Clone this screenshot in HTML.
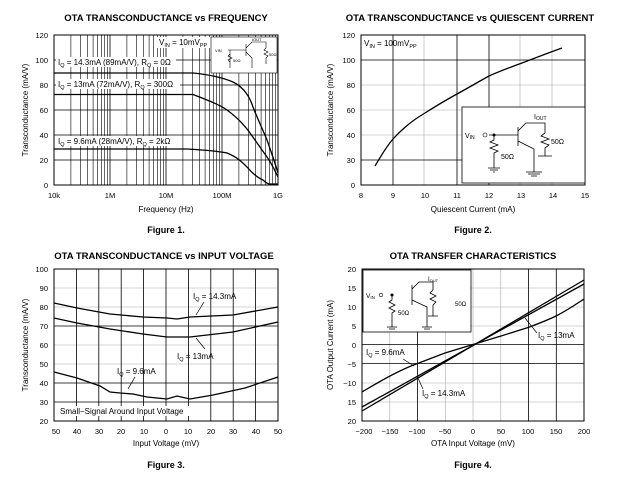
<!DOCTYPE html>
<html><head><meta charset="utf-8"><style>
body{margin:0;background:#fff;width:620px;height:478px;overflow:hidden}
svg{display:block}
text{font-family:"Liberation Sans",sans-serif;fill:#000}
.t{font-size:9.5px;font-weight:bold}
.k{font-size:7.5px}
.a{font-size:8px}
.f{font-size:9px;font-weight:bold}
.g{stroke:#000;stroke-width:.8}
.l{stroke:#aaa;stroke-width:.6}
.c{fill:none;stroke:#000;stroke-width:1.3}
</style></head><body>
<svg width="620" height="478" viewBox="0 0 620 478">
<!-- FIG 1 -->
<text class="t" x="166" y="21" text-anchor="middle">OTA TRANSCONDUCTANCE vs FREQUENCY</text>
<g class="g">
<path d="M54 60H278M54 85H278M54 110H278M54 135H278M54 160H278"/>
<path d="M110 35V185M166 35V185M222 35V185"/>
</g>
<g stroke="#000" stroke-width=".6">
<path d="M70.9 35V185M80.7 35V185M87.7 35V185M93.1 35V185M97.6 35V185M101.3 35V185M104.6 35V185M107.4 35V185"/>
<path d="M126.9 35V185M136.7 35V185M143.7 35V185M149.1 35V185M153.6 35V185M157.3 35V185M160.6 35V185M163.4 35V185"/>
<path d="M182.9 35V185M192.7 35V185M199.7 35V185M205.1 35V185M209.6 35V185M213.3 35V185M216.6 35V185M219.4 35V185"/>
<path d="M238.9 35V185M248.7 35V185M255.7 35V185M261.1 35V185M265.6 35V185M269.3 35V185M272.6 35V185M275.4 35V185"/>
</g>
<rect x="54" y="35" width="224" height="150" fill="none" stroke="#000" stroke-width="1"/>
<path class="c" d="M54 73H193C213 75 226 79 233 82C245 88 250 98 253 107C258 120 263 130 267 140C272 154 275 163 278 173"/>
<path class="c" d="M54 94.5H193C210 101 220 105 227 110C238 118 245 126 250 133C257 143 262 150 267 157C272 164 275 171 278 177"/>
<path class="c" d="M54 149H187C205 150 217 151 227 153C237 157 242 162 247 167C253 174 258 178 263 180C266 183 268 184 270 184H278"/>
<rect x="56" y="57" width="120" height="10" fill="#fff"/>
<text class="a" x="58" y="65">I<tspan font-size="5.5" dy="2">Q</tspan><tspan dy="-2"> = 14.3mA (89mA/V), R</tspan><tspan font-size="5.5" dy="2">Q</tspan><tspan dy="-2"> = 0Ω</tspan></text>
<rect x="56" y="79" width="124" height="10" fill="#fff"/>
<text class="a" x="58" y="87">I<tspan font-size="5.5" dy="2">Q</tspan><tspan dy="-2"> = 13mA (72mA/V), R</tspan><tspan font-size="5.5" dy="2">Q</tspan><tspan dy="-2"> = 300Ω</tspan></text>
<rect x="56" y="136" width="118" height="10" fill="#fff"/>
<text class="a" x="58" y="144">I<tspan font-size="5.5" dy="2">Q</tspan><tspan dy="-2"> = 9.6mA (28mA/V), R</tspan><tspan font-size="5.5" dy="2">Q</tspan><tspan dy="-2"> = 2kΩ</tspan></text>
<rect x="157" y="37" width="53" height="11" fill="#fff"/>
<text class="a" x="159" y="45">V<tspan font-size="5.5" dy="2">IN</tspan><tspan dy="-2"> = 10mV</tspan><tspan font-size="5.5" dy="2">PP</tspan></text>
<rect x="211" y="37" width="66" height="36" fill="#fff" stroke="#000" stroke-width=".6"/>
<g stroke="#000" stroke-width=".6" fill="none"><path d="M228 50H246M246 44V56M246 48L252 42H266V48M246 52L252 58V68M230 50V68M266 48L264 50L268 52L264 54L268 56L266 58V64M230 54L228 56L232 58L228 60L230 62V66"/></g>
<text x="215" y="52" font-size="4">V<tspan>IN</tspan></text><text x="233" y="62" font-size="4">50Ω</text><text x="269" y="56" font-size="4">50Ω</text><text x="252" y="41" font-size="4">IOUT</text>
<g class="k" text-anchor="end"><text x="48" y="38">120</text><text x="48" y="63">100</text><text x="48" y="88">80</text><text x="48" y="113">60</text><text x="48" y="138">40</text><text x="48" y="163">20</text><text x="48" y="188">0</text></g>
<g class="k" text-anchor="middle"><text x="54" y="198">10k</text><text x="110" y="198">1M</text><text x="166" y="198">10M</text><text x="222" y="198">100M</text><text x="278" y="198">1G</text></g>
<text class="a" x="166" y="212" text-anchor="middle">Frequency (Hz)</text>
<text class="a" transform="translate(28 110) rotate(-90)" text-anchor="middle">Transconductance (mA/V)</text>
<text class="f" x="166" y="233" text-anchor="middle">Figure 1.</text>

<!-- FIG 2 -->
<text class="t" x="470" y="21" text-anchor="middle">OTA TRANSCONDUCTANCE vs QUIESCENT CURRENT</text>
<g class="l"><path d="M361 85H585M361 110H585M361 135H585M424 35V185M520 35V185M552 35V185"/></g>
<g class="g"><path d="M361 60H585M361 160H585M393 35V185M457 35V185M489 35V185"/></g>
<rect x="361" y="35" width="224" height="150" fill="none" stroke="#000" stroke-width="1"/>
<path class="c" d="M375 166C381 156 386 147 393 139C403 128 413 120 425 113C436 106 446 100 457 94C468 88 478 82 489 76C500 71 511 67 522 63C535 58 548 53 562 48"/>
<text class="a" x="364" y="46">V<tspan font-size="5.5" dy="2">IN</tspan><tspan dy="-2"> = 100mV</tspan><tspan font-size="5.5" dy="2">PP</tspan></text>
<rect x="462" y="107" width="123" height="76" fill="#fff" stroke="#000" stroke-width=".8"/>
<g stroke="#000" stroke-width=".8" fill="none">
<path d="M489 135H518M518 127V146M518 131L526 123H545V133M518 141L534 149V172M494 135V140L490 142L498 145L490 148L498 151L494 153V168M545 133L541 136L549 139L541 142L549 145L545 148V156M488 168H500M490 170H498M493 172H495M526 172H542M528 174H540M531 176H537M538 156H552"/></g>
<circle cx="494" cy="135" r="1.5"/><circle cx="485" cy="135" r="2" fill="none" stroke="#000" stroke-width=".6"/>
<text x="465" y="138" font-size="7">V<tspan font-size="5" dy="1">IN</tspan></text>
<text x="501" y="159" font-size="7">50Ω</text><text x="551" y="144" font-size="7">50Ω</text>
<text x="534" y="119" font-size="7">I<tspan font-size="5" dy="1">OUT</tspan></text>
<g class="k" text-anchor="end"><text x="355" y="38">120</text><text x="355" y="63">100</text><text x="355" y="88">80</text><text x="355" y="113">60</text><text x="355" y="138">40</text><text x="355" y="163">30</text><text x="355" y="188">0</text></g>
<g class="k" text-anchor="middle"><text x="361" y="198">8</text><text x="393" y="198">9</text><text x="425" y="198">10</text><text x="457" y="198">11</text><text x="489" y="198">12</text><text x="521" y="198">13</text><text x="553" y="198">14</text><text x="585" y="198">15</text></g>
<text class="a" x="473" y="212" text-anchor="middle">Quiescent Current (mA)</text>
<text class="a" transform="translate(333 110) rotate(-90)" text-anchor="middle">Transconductance (mA/V)</text>
<text class="f" x="473" y="233" text-anchor="middle">Figure 2.</text>

<!-- FIG 3 -->
<text class="t" x="164" y="259" text-anchor="middle">OTA TRANSCONDUCTANCE vs INPUT VOLTAGE</text>
<g class="l"><path d="M54 288H278M54 307H278M54 345H278M54 364H278"/></g>
<g class="g"><path d="M54 326H278M54 383H278M54 402H278M76.4 269V421M98.8 269V421M121.2 269V421M143.6 269V421M166 269V421M188.4 269V421M210.8 269V421M233.2 269V421M255.6 269V421"/></g>
<rect x="54" y="269" width="224" height="152" fill="none" stroke="#000" stroke-width="1"/>
<path class="c" d="M54 303L77 308L110 314L143 317L167 318L177 319L190 317L233 315L278 307"/>
<path class="c" d="M54 318L77 323L110 329L143 334L167 337L190 337L233 332L278 322"/>
<path class="c" d="M54 372L77 378L100 386L110 392L120 393L133 394L147 397L167 399L177 396L190 399L213 395L245 388L278 377"/>
<rect x="58" y="406" width="138" height="10" fill="#fff"/>
<text class="a" x="60" y="414">Small−Signal Around Input Voltage</text>
<text class="a" x="193" y="299">I<tspan font-size="5.5" dy="2">Q</tspan><tspan dy="-2"> = 14.3mA</tspan></text>
<text class="a" x="177" y="359">I<tspan font-size="5.5" dy="2">Q</tspan><tspan dy="-2"> = 13mA</tspan></text>
<text class="a" x="117" y="374">I<tspan font-size="5.5" dy="2">Q</tspan><tspan dy="-2"> = 9.6mA</tspan></text>
<g stroke="#000" stroke-width=".7"><path d="M204 302L196 315M196 338L205 349M135 377L128 389"/></g>
<g class="k" text-anchor="end"><text x="48" y="272">100</text><text x="48" y="291">90</text><text x="48" y="310">80</text><text x="48" y="329">70</text><text x="48" y="348">60</text><text x="48" y="367">50</text><text x="48" y="386">40</text><text x="48" y="405">30</text><text x="48" y="424">20</text></g>
<g class="k" text-anchor="middle"><text x="56" y="434">50</text><text x="77" y="434">40</text><text x="99" y="434">30</text><text x="121" y="434">20</text><text x="144" y="434">10</text><text x="166" y="434">0</text><text x="188" y="434">10</text><text x="211" y="434">20</text><text x="233" y="434">30</text><text x="256" y="434">40</text><text x="278" y="434">50</text></g>
<text class="a" x="166" y="446" text-anchor="middle">Input Voltage (mV)</text>
<text class="a" transform="translate(28 345) rotate(-90)" text-anchor="middle">Transconductance (mA/V)</text>
<text class="f" x="166" y="468" text-anchor="middle">Figure 3.</text>

<!-- FIG 4 -->
<text class="t" x="473" y="259" text-anchor="middle">OTA TRANSFER CHARACTERISTICS</text>
<g class="l"><path d="M362 288H584M362 307H584M362 326H584M362 383H584M362 402H584M389.8 269V421M445.3 269V421M473 269V421M500.8 269V421"/></g>
<g class="g"><path d="M362 344.5H584M362 363.5H584M417.5 269V421M528.5 269V421M556.3 269V421"/></g>
<rect x="362" y="269" width="222" height="152" fill="none" stroke="#000" stroke-width="1"/>
<path class="c" stroke-width="1.6" d="M362 411L584 280"/>
<path class="c" stroke-width="1.6" d="M362 407L584 284"/>
<path class="c" d="M362 392C385 378 405 368 417.5 363.5C432 358 440 355 445 353L473 344.5L501 336L528.5 327.4C540 323 548 320 556 316C566 311 575 305 584 299"/>
<rect x="363" y="270" width="108" height="62" fill="#fff" stroke="#000" stroke-width=".8"/>
<g stroke="#000" stroke-width=".8" fill="none">
<path d="M392 295V300L389 302L395 305L389 308L395 311L392 313V327M387 327H397M389 329H395M412 285V305M412 289L419 282H433V290M412 300L427 307V327M422 327H432M424 329H430M433 290L430 293L436 296L430 299L436 302L433 305V316M428 316H438"/></g>
<circle cx="392" cy="295" r="1.5"/><circle cx="381" cy="295" r="1.8" fill="none" stroke="#000" stroke-width=".6"/>
<text x="366" y="298" font-size="6.5">V<tspan font-size="4.5" dy="1">IN</tspan></text>
<text x="398" y="315" font-size="6">50Ω</text><text x="455" y="306" font-size="6">50Ω</text>
<text x="428" y="281" font-size="6">I<tspan font-size="4" dy="1">OUT</tspan></text>
<text class="a" x="538" y="338">I<tspan font-size="5.5" dy="2">Q</tspan><tspan dy="-2"> = 13mA</tspan></text>
<text class="a" x="366" y="355">I<tspan font-size="5.5" dy="2">Q</tspan><tspan dy="-2"> = 9.6mA</tspan></text>
<text class="a" x="422" y="396">I<tspan font-size="5.5" dy="2">Q</tspan><tspan dy="-2"> = 14.3mA</tspan></text>
<g stroke="#000" stroke-width=".7"><path d="M537 333L525 318M403 359L414 366M423 389L417 376"/></g>
<g class="k" text-anchor="end"><text x="356" y="272">20</text><text x="356" y="291">15</text><text x="356" y="310">10</text><text x="356" y="329">5</text><text x="356" y="348">0</text><text x="356" y="367">−5</text><text x="356" y="386">−10</text><text x="356" y="405">15</text><text x="356" y="424">20</text></g>
<g class="k" text-anchor="middle"><text x="364" y="434">−200</text><text x="390" y="434">−150</text><text x="417" y="434">−100</text><text x="445" y="434">−50</text><text x="473" y="434">0</text><text x="501" y="434">50</text><text x="528" y="434">100</text><text x="556" y="434">150</text><text x="584" y="434">200</text></g>
<text class="a" x="473" y="446" text-anchor="middle">OTA Input Voltage (mV)</text>
<text class="a" transform="translate(333 345) rotate(-90)" text-anchor="middle">OTA Output Current (mA)</text>
<text class="f" x="473" y="468" text-anchor="middle">Figure 4.</text>
</svg>
</body></html>
